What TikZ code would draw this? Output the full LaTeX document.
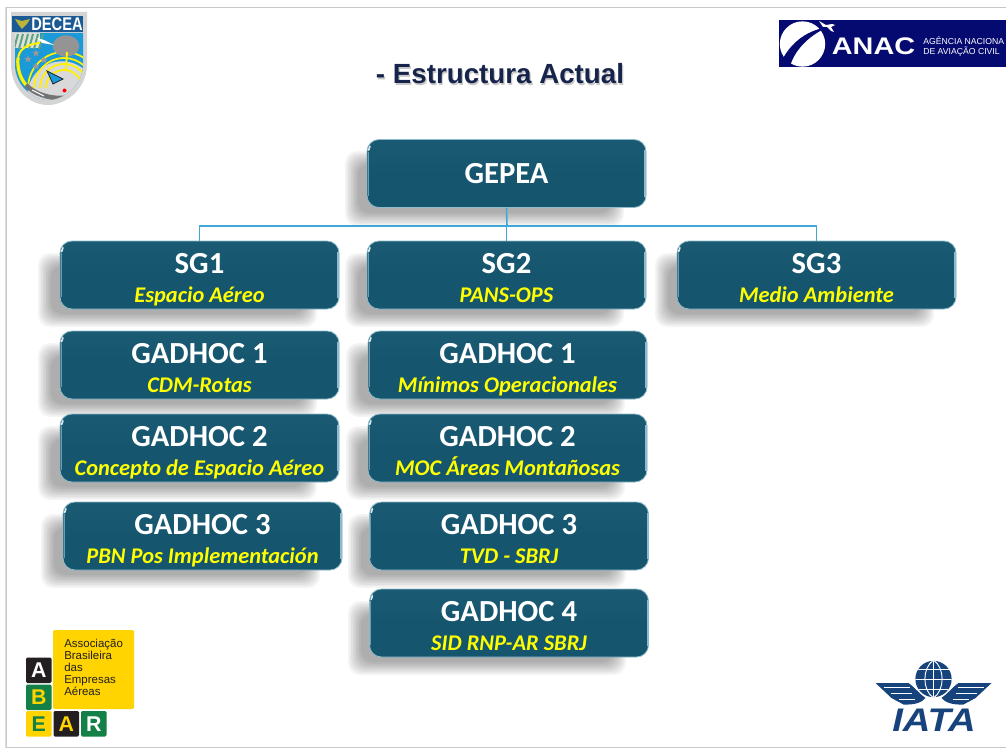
\documentclass[tikz,border=0pt]{standalone}
\usepackage{fontspec}
\setmainfont{Carlito}
\newfontfamily\arialf{Liberation Sans}
\definecolor{boxfill}{HTML}{15566E}
\definecolor{boxtop}{HTML}{1A5B73}
\definecolor{boxedge}{HTML}{8DBBCB}
\definecolor{conncol}{HTML}{3FA9D6}
\definecolor{subyel}{HTML}{FFFF00}
\definecolor{pagegrey}{HTML}{C8C8C8}
\definecolor{navy}{HTML}{16234A}
\definecolor{anacblue}{HTML}{050A70}
\definecolor{abyel}{HTML}{FFD400}
\definecolor{abgreen}{HTML}{128047}
\definecolor{abblack}{HTML}{231F20}
\definecolor{iatablue}{HTML}{17437C}
\definecolor{shieldblue}{HTML}{1A9AD8}
\definecolor{shieldnavy}{HTML}{1B5A95}
\usetikzlibrary{calc}
\tikzset{
  orgbox/.style={rounded corners=9pt, minimum width=209.25pt, minimum height=51pt, inner sep=0pt,
    draw=boxedge, line width=.6pt, top color=boxtop, bottom color=boxfill, middle color=boxfill,
    text=white, align=center, font=\fontsize{23}{24}\selectfont\bfseries,
    path picture={
      \draw[boxedge, line width=1.4pt] ([shift={(-.8pt,-8pt)}]path picture bounding box.north east) -- ([shift={(-.8pt,8pt)}]path picture bounding box.south east);
      \draw[white!70!boxedge, line width=1.4pt, line cap=round] ([shift={(-2pt,2.2pt)}]path picture bounding box.south east) -- ++(1.6pt,2.2pt);
      \draw[white!70!boxedge, line width=1.2pt, line cap=round] ([shift={(1.2pt,-8pt)}]path picture bounding box.north west) -- ++(1pt,3pt);
      \draw[boxedge!70!boxfill, line width=.8pt] ([shift={(.8pt,-9pt)}]path picture bounding box.north west) -- ([shift={(.8pt,9pt)}]path picture bounding box.south west);
    }},
  conn/.style={draw=conncol, line width=.8pt},
}
\newcommand{\headt}[1]{\raisebox{0pt}[23pt][4pt]{#1}}
\newcommand{\subt}[1]{\\[-2pt]\raisebox{0pt}[12.5pt][3.5pt]{\fontsize{16.8}{17}\selectfont\itshape\color{subyel}#1}}
\newcommand{\shad}[4]{\foreach \i in {0,...,8}{\fill[black,opacity=.038,rounded corners=9pt] ({#1-22+1.6*\i},{#2+12+1.6*\i}) rectangle ({#3-22-1.6*\i},{#4+18-1.6*\i});}}
\newcommand{\absq}[6]{\fill[#4,rounded corners=1pt] (#1,#2) rectangle ++(25.5,25.5);
  \node (#6) [font=\arialf\fontsize{16}{17}\selectfont\bfseries,text=#5,inner sep=0pt] at ($(#1,#2)+(12.75,12.75)$) {#3};}
\begin{document}
\begin{tikzpicture}[x=0.75pt,y=-0.75pt]
\useasboundingbox (0,0) rectangle (1006,749);
% page
\fill[white] (0,0) rectangle (1006,749);
\draw[pagegrey,line width=.8pt] (1006,7.5) -- (6.5,7.5) -- (6.5,747.5) -- (1006,747.5);
\draw[pagegrey!60,line width=.8pt] (5.5,7.5) -- (5.5,747.5);
% shadows
\shad{367}{139}{646}{208}
\shad{60}{241}{339}{309}
\shad{367}{241}{646}{309}
\shad{677}{241}{956}{309}
\shad{60}{331}{339}{399}
\shad{60}{414}{339}{482}
\shad{63}{502}{342}{570}
\shad{368}{331}{647}{399}
\shad{368}{414}{647}{482}
\shad{370}{502}{648}{570}
\shad{370}{589}{648}{657}
% title
\node[font=\arialf\fontsize{20.8}{22}\selectfont\bfseries,text=black!30,opacity=.7] at (501.2,75.2) {- Estructura Actual};
\node (title) [font=\arialf\fontsize{20.8}{22}\selectfont\bfseries,text=navy] at (500,74) {- Estructura Actual};
% boxes
\node (gepea) [orgbox] at (506.5,173.5) {GEPEA};
\node (sg1) [orgbox] at (199.5,275) {\headt{SG1}\subt{Espacio Aéreo}};
\node (sg2) [orgbox] at (506.5,275) {\headt{SG2}\subt{PANS-OPS}};
\node (sg3) [orgbox] at (816.5,275) {\headt{SG3}\subt{Medio Ambiente}};
\node (l1) [orgbox] at (199.5,365) {\headt{GADHOC 1}\subt{CDM-Rotas}};
\node (l2) [orgbox] at (199.5,448) {\headt{GADHOC 2}\subt{Concepto de Espacio Aéreo}};
\node (l3) [orgbox] at (202.5,536) {\headt{GADHOC 3}\subt{PBN Pos Implementación}};
\node (m1) [orgbox] at (507.5,365) {\headt{GADHOC 1}\subt{Mínimos Operacionales}};
\node (m2) [orgbox] at (507.5,448) {\headt{GADHOC 2}\subt{MOC Áreas Montañosas}};
\node (m3) [orgbox] at (509,536) {\headt{GADHOC 3}\subt{TVD - SBRJ}};
\node (m4) [orgbox] at (509,623) {\headt{GADHOC 4}\subt{SID RNP-AR SBRJ}};
% connectors
\coordinate (bus) at (507,226);
\draw[conn,line width=1.2pt] (gepea.south) -- (bus);
\draw[conn] (sg1.north) |- (bus);
\draw[conn] (sg3.north) |- (bus);
\draw[conn] (sg2.north) -- (sg2.north|-bus);
% DECEA shield
\fill[black!17] (11,12) -- (87,12) -- (87,66) .. controls (86,90) and (65,105) .. (48,105) .. controls (30,105) and (12,90) .. (11,66) -- cycle;
\begin{scope}
\clip (15,33) -- (83,33) -- (83,66) .. controls (82,86) and (63,100) .. (48,100) .. controls (33,100) and (16,86) .. (15,66) -- cycle;
\fill[shieldblue] (11,30) rectangle (87,105);
\fill[black!12] (12,33) rectangle (40,48);
\foreach \k in {0,...,5} \draw[abgreen!70!white,line width=1.5pt] ({14+5*\k},49) -- ({18+5*\k},34);
\fill[black!15] (62,96) circle[radius=26pt];
\foreach \r in {13.5,18,22.5,27}
  \draw[yellow,line width=1.3pt] ($(64,88)+(-\r*1.33,0)$) arc[start angle=180,end angle=8,radius=\r pt];
\draw[yellow,line width=1.5pt] (18,60) .. controls (18,50) and (26,44) .. (40,43);
\draw[yellow,line width=2.4pt] (18,58) .. controls (17,68) and (20,78) .. (26,85);
\draw[black!55,line width=3.5pt] (26,85) .. controls (34,94) and (50,99) .. (64,98);
\draw[white,line width=.8pt] (32,90) -- (44,96);
\end{scope}
\fill[shieldnavy] (12,16) rectangle (83,32);
\node (decea) [font=\arialf\fontsize{11}{12}\selectfont\bfseries,text=white,inner sep=0pt,yscale=1.25] at (57,24) {DECEA};
\fill[yellow!70!black] (15,19) -- (22,21) -- (30,19) -- (27,24) -- (22,29) -- (18,24) -- cycle;
\fill[black!42] (66,46) ellipse[x radius=10pt,y radius=8pt];
\fill[white] (37,38) -- (44,40) -- (54,45) -- (42,43) -- cycle;
\draw[yellow,line width=1.4pt] (67,52) -- (66,70);
\foreach \p in {(36,53),(28,59),(44,60),(36,66)}
  \fill[black!40] \p ++(0,-3.6) -- ++(1,2.6) -- ++(2.6,0) -- ++(-2,1.7) -- ++(.9,2.7) -- ++(-2.5,-1.6) -- ++(-2.5,1.6) -- ++(.9,-2.7) -- ++(-2,-1.7) -- ++(2.6,0) -- cycle;
\fill[shieldblue,draw=abblack,line width=.6pt] (47,71) -- (63,79) -- (53,84) -- cycle;
\fill[red] (64.5,90.5) circle[radius=1.5pt];
% ANAC logo
\fill[anacblue] (779,20) rectangle (1006,67);
\fill[white] (802.5,44) circle[radius=17pt];
\fill[anacblue] (781,62) .. controls (789,46) and (803,31) .. (828,27) .. controls (808,36) and (795,50) .. (790,66) -- cycle;
\fill[white] (819,21) -- (826,25) -- (832,24) -- (835,25) -- (831,27) -- (834,32) -- (831,31) -- (827,27) -- (823,27) -- cycle;
\node (anac) [font=\arialf\fontsize{18}{19}\selectfont\bfseries,text=white,inner sep=0pt,xscale=1.2] at (873.5,46) {ANAC};
\node (anacsub) [font=\arialf\fontsize{6.5}{8}\selectfont,text=white,inner sep=0pt,align=left,anchor=west] at (923,46.5) {AGÊNCIA NACIONA\\DE AVIAÇÃO CIVIL};
% ABEAR logo
\fill[abyel,rounded corners=1pt] (53,630) rectangle (134,709);
\node (abtxt) [font=\arialf\fontsize{8.6}{9}\selectfont,text=abblack,inner sep=0pt,align=left,anchor=north west] at (64,638.5) {Associação\\Brasileira\\das\\Empresas\\Aéreas};
\absq{26}{657.5}{A}{abblack}{white}{ab1}
\absq{26}{684.5}{B}{abgreen}{abyel}{ab2}
\absq{26}{711}{E}{abyel}{abgreen}{ab3}
\absq{53.5}{711}{A}{abblack}{abyel}{ab4}
\absq{81}{711}{R}{abgreen}{white}{ab5}
% IATA logo
\fill[iatablue] (933.5,679) circle[radius=13.6pt];
\begin{scope}
\clip (933.5,679) circle[radius=13.6pt];
\draw[white,line width=.7pt] (915,679) -- (952,679) (933.5,660) -- (933.5,698);
\draw[white,line width=.7pt] (915,669) -- (952,669) (915,689) -- (952,689);
\draw[white,line width=.7pt] (933.5,660) .. controls (922,668) and (922,690) .. (933.5,698);
\draw[white,line width=.7pt] (933.5,660) .. controls (945,668) and (945,690) .. (933.5,698);
\end{scope}
\foreach \s in {1,-1}{
\begin{scope}[shift={(933.5,0)},xscale=\s]
\fill[iatablue] (-58,683) -- (-25,683) .. controls (-18,688) and (-14,694) .. (-8,698) .. controls (-12,703) and (-20,705) .. (-30,704.5) -- (-42,698) -- cycle;
\draw[white,line width=.6pt] (-50,687.5) -- (-24,687.5) (-43,693) -- (-22,693) (-35,699) -- (-19,699);
\end{scope}}
\node (iata) [font=\arialf\fontsize{24.5}{25}\selectfont\bfseries\itshape,text=iatablue,inner sep=0pt,xscale=1.17] at (934,720) {IATA};
\end{tikzpicture}
\end{document}
